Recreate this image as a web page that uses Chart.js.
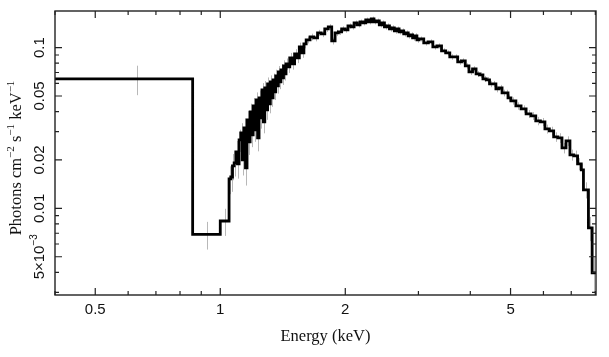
<!DOCTYPE html>
<html><head><meta charset="utf-8">
<script src="https://cdn.jsdelivr.net/npm/chart.js@4.4.1/dist/chart.umd.min.js"></script>
<style>html,body{margin:0;padding:0;background:#fff}#wrap{width:609px;height:357px}</style>
</head><body><div id="wrap"><canvas id="c" width="609" height="357"></canvas></div>
<script>
// Bin edges (keV), n+1 values
const binEdges = [0.40, 0.858, 1.00,
 1.05, 1.06, 1.07, 1.08, 1.09, 1.10, 1.11, 1.12, 1.13, 1.14, 1.15, 1.16, 1.17, 1.18, 1.19, 1.20, 1.21, 1.22, 1.23, 1.24, 1.25, 1.26, 1.27, 1.28, 1.29, 1.30, 1.31, 1.32, 1.33, 1.34, 1.35, 1.36, 1.37, 1.38, 1.39, 1.40, 1.41, 1.42, 1.43, 1.44,
 1.45, 1.47, 1.49, 1.51, 1.53, 1.55, 1.57, 1.59,
 1.61, 1.645, 1.68, 1.715, 1.75, 1.785, 1.82, 1.855, 1.89, 1.925, 1.96, 1.995, 2.03, 2.065, 2.10, 2.135, 2.17, 2.205, 2.24, 2.275, 2.31, 2.345, 2.38, 2.415, 2.45, 2.485, 2.52, 2.555, 2.59, 2.625, 2.66, 2.695, 2.73, 2.765, 2.80, 2.835, 2.87, 2.905, 2.94, 2.975,
 3.01, 3.09, 3.17, 3.25, 3.33, 3.41, 3.49, 3.57, 3.65, 3.73, 3.81, 3.89, 3.97, 4.05, 4.13, 4.21, 4.29, 4.37, 4.45, 4.53, 4.61, 4.69, 4.77, 4.85, 4.93,
 5.01, 5.15, 5.30, 5.45, 5.60, 5.75, 5.90, 6.05, 6.20, 6.35, 6.50, 6.65, 6.80, 6.95, 7.10, 7.25, 7.40, 7.49, 7.70, 7.86, 8.03];

// Photons cm^-2 s^-1 keV^-1 per bin
const flux = [0.0639, 0.00689, 0.00834,
 0.01525, 0.01567, 0.01837, 0.01918, 0.02244, 0.01891, 0.02665, 0.02946, 0.02001, 0.03165, 0.01786, 0.03549, 0.02590, 0.03980, 0.02863, 0.04337, 0.03075, 0.04726, 0.02743, 0.04863, 0.03652, 0.05454, 0.03449, 0.05613, 0.04095, 0.05944, 0.04463, 0.06117, 0.04863, 0.06295, 0.05300, 0.06666, 0.05776, 0.07059, 0.06117, 0.07264, 0.06478, 0.07693, 0.06860, 0.07917,
 0.07583, 0.08628, 0.07917, 0.09137, 0.08628, 0.1010, 0.09268, 0.1054,
 0.1117, 0.1166, 0.1149, 0.1235, 0.1217, 0.1307, 0.1345, 0.1101, 0.1235, 0.1252, 0.1307, 0.1289, 0.1365, 0.1345, 0.1425, 0.1385, 0.1445, 0.1425, 0.1487, 0.1445, 0.1509, 0.1445, 0.1466, 0.1385, 0.1425, 0.1345, 0.1365, 0.1307, 0.1326, 0.1270, 0.1307, 0.1252, 0.1270, 0.1217, 0.1235, 0.1183, 0.1200, 0.1149, 0.1183, 0.1117,
 0.1133, 0.1070, 0.1085, 0.1010, 0.1025, 0.09538, 0.09268, 0.08752, 0.08752, 0.08147, 0.08264, 0.07693, 0.07059, 0.07369, 0.06860, 0.06762, 0.06385, 0.06295, 0.05944, 0.05944, 0.05533, 0.05613, 0.05224, 0.05224, 0.04863,
 0.04659, 0.04336, 0.04153, 0.03866, 0.03757, 0.03497, 0.03449, 0.03119, 0.03030, 0.02782, 0.02743, 0.02376, 0.02626, 0.02150, 0.02118, 0.01891, 0.01735, 0.01302, 0.007551, 0.003963];

// 1-sigma errors per bin
const fluxErr = [0.0133, 0.00135, 0.0016,
 0.0030, 0.0030, 0.0034, 0.0034, 0.0038, 0.0036, 0.0042, 0.0044, 0.0040, 0.0046, 0.0040, 0.0048, 0.0044, 0.0050, 0.0046, 0.0052, 0.0048, 0.0054, 0.0048, 0.0055, 0.0052, 0.0056, 0.0052, 0.0058, 0.0054, 0.0058, 0.0056, 0.0060, 0.0058, 0.0060, 0.0058, 0.0062, 0.0060, 0.0062, 0.0060, 0.0064, 0.0062, 0.0064, 0.0062, 0.0064,
 0.0062, 0.0064, 0.0062, 0.0064, 0.0062, 0.0064, 0.0062, 0.0064,
 0.0055, 0.0055, 0.0055, 0.0055, 0.0055, 0.0055, 0.0055, 0.0055, 0.0055, 0.0055, 0.005, 0.005, 0.005, 0.005, 0.005, 0.005, 0.005, 0.005, 0.005, 0.005, 0.005, 0.005, 0.005, 0.005, 0.005, 0.005, 0.005, 0.005, 0.005, 0.005, 0.0045, 0.0045, 0.0045, 0.0045, 0.0045, 0.0045, 0.0045, 0.0045, 0.0045, 0.0045,
 0.004, 0.004, 0.004, 0.0038, 0.0037, 0.0036, 0.0035, 0.0034, 0.0033, 0.0032, 0.0031, 0.003, 0.003, 0.0029, 0.0029, 0.0028, 0.0028, 0.0027, 0.0027, 0.0026, 0.0026, 0.0025, 0.0025, 0.0024, 0.0024,
 0.0024, 0.0023, 0.0022, 0.0022, 0.0021, 0.0021, 0.002, 0.002, 0.0019, 0.0019, 0.0019, 0.0018, 0.0018, 0.0017, 0.0017, 0.0016, 0.0016, 0.0015, 0.0013, 0.0010];

const xMajorTicks = [0.5, 1, 2, 5];
const xTickLabels = ['0.5', '1', '2', '5'];
const xMinorTicks = [0.4, 0.6, 0.7, 0.8, 0.9, 3, 4, 6, 7, 8];
const yMajorTicks = [0.1, 0.05, 0.02, 0.01, 0.005];
const yTickLabels = ['0.1', '0.05', '0.02', '0.01', '5×10|−3'];
const yMinorTicks = [0.003, 0.004, 0.006, 0.007, 0.008, 0.009, 0.03, 0.04, 0.06, 0.07, 0.08, 0.09];
const xTitle = 'Energy (keV)';
const yTitleParts = [['Photons cm', 0], ['−2', 1], [' s', 0], ['−1', 1], [' keV', 0], ['−1', 1]];

const points = binEdges.map((e, i) => ({x: e, y: flux[Math.min(i, flux.length - 1)]}));

const SANS = '"Liberation Sans", Arial, sans-serif';
const SERIF = '"Liberation Serif", "Times New Roman", serif';

function drawParts(ctx, parts, size, supSize, family) {
  let total = 0;
  const widths = parts.map(([t, s]) => { ctx.font = (s ? supSize : size) + 'px ' + family; const w = ctx.measureText(t).width; total += w; return w; });
  let x = -total / 2;
  parts.forEach(([t, s], i) => {
    ctx.font = (s ? supSize : size) + 'px ' + family;
    ctx.textAlign = 'left';
    ctx.textBaseline = 'middle';
    ctx.fillText(t, x, s ? -size * 0.38 : 0);
    x += widths[i];
  });
}

const framePlugin = {
  id: 'frame',
  beforeDatasetsDraw(chart) {
    const {ctx, chartArea: a, scales: {x, y}} = chart;
    ctx.save();
    ctx.beginPath(); ctx.rect(a.left, a.top, a.right - a.left, a.bottom - a.top); ctx.clip();
    ctx.strokeStyle = '#b8b8b8'; ctx.lineWidth = 1;
    for (let i = 0; i < flux.length; i++) {
      const cx = x.getPixelForValue((binEdges[i] + binEdges[i + 1]) / 2);
      const y1 = y.getPixelForValue(flux[i] + fluxErr[i]);
      const y2 = y.getPixelForValue(Math.max(flux[i] - fluxErr[i], 1e-4));
      ctx.beginPath(); ctx.moveTo(Math.round(cx) + 0.5, y1); ctx.lineTo(Math.round(cx) + 0.5, y2); ctx.stroke();
    }
    ctx.restore();
  },
  afterDraw(chart) {
    const {ctx, chartArea: a, scales: {x, y}} = chart;
    ctx.save();
    ctx.strokeStyle = '#222'; ctx.lineWidth = 1.4;
    ctx.strokeRect(a.left, a.top, a.right - a.left, a.bottom - a.top);
    ctx.lineWidth = 1.2;
    const tick = (px, len, horiz) => {
      ctx.beginPath();
      if (horiz) { ctx.moveTo(px, a.bottom); ctx.lineTo(px, a.bottom - len); ctx.moveTo(px, a.top); ctx.lineTo(px, a.top + len); }
      else { ctx.moveTo(a.left, px); ctx.lineTo(a.left + len, px); ctx.moveTo(a.right, px); ctx.lineTo(a.right - len, px); }
      ctx.stroke();
    };
    xMajorTicks.forEach(v => tick(x.getPixelForValue(v), 7, true));
    xMinorTicks.forEach(v => tick(x.getPixelForValue(v), 4, true));
    yMajorTicks.forEach(v => tick(y.getPixelForValue(v), 7, false));
    yMinorTicks.forEach(v => tick(y.getPixelForValue(v), 4, false));
    ctx.fillStyle = '#111';
    ctx.font = '15px ' + SANS; ctx.textAlign = 'center'; ctx.textBaseline = 'middle';
    xMajorTicks.forEach((v, i) => ctx.fillText(xTickLabels[i], x.getPixelForValue(v), a.bottom + 15));
    yMajorTicks.forEach((v, i) => {
      ctx.save(); ctx.translate(a.left - 15, y.getPixelForValue(v)); ctx.rotate(-Math.PI / 2);
      const parts = yTickLabels[i].split('|').map((t, j) => [t, j]);
      drawParts(ctx, parts, 15, 10, SANS);
      ctx.restore();
    });
    ctx.font = '16.5px ' + SERIF; ctx.textAlign = 'center'; ctx.textBaseline = 'middle';
    ctx.fillText(xTitle, (a.left + a.right) / 2, a.bottom + 42);
    ctx.save(); ctx.translate(17, (a.top + a.bottom) / 2 + 5); ctx.rotate(-Math.PI / 2);
    drawParts(ctx, yTitleParts, 16.5, 11, SERIF);
    ctx.restore();
    ctx.restore();
  }
};

new Chart(document.getElementById('c'), {
  type: 'line',
  data: { datasets: [{ data: points, borderColor: '#000', borderWidth: 2.8, pointRadius: 0, stepped: true, fill: false, tension: 0, borderJoinStyle: 'miter' }] },
  options: {
    responsive: false, animation: false, devicePixelRatio: 1,
    layout: { padding: { top: 11, right: 13, left: 0, bottom: 0 } },
    plugins: { legend: { display: false }, tooltip: { enabled: false } },
    scales: {
      x: { type: 'logarithmic', min: 0.4, max: 8.03, grid: { display: false }, border: { display: false }, ticks: { display: false }, afterFit: s => { s.height = 62; } },
      y: { type: 'logarithmic', min: 0.00289, max: 0.169, grid: { display: false }, border: { display: false }, ticks: { display: false }, afterFit: s => { s.width = 55; } }
    }
  },
  plugins: [framePlugin]
});
</script>
</body></html>
